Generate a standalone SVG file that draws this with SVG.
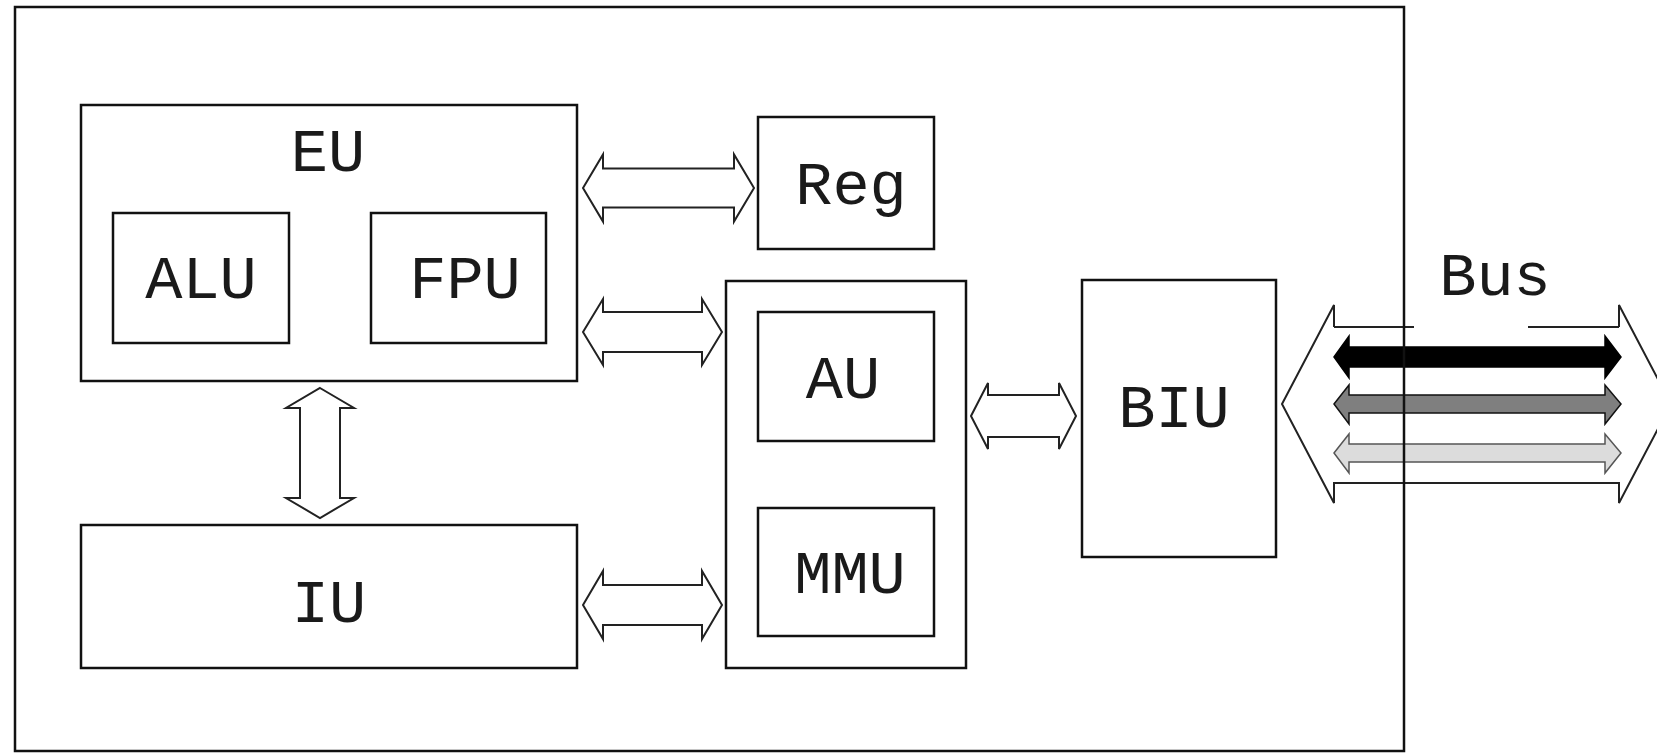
<svg xmlns="http://www.w3.org/2000/svg" width="1657" height="754" viewBox="0 0 1657 754">
<style>
.box{fill:none;stroke:#111;stroke-width:2.5}
.arr{fill:#fff;stroke:#222;stroke-width:2;stroke-linejoin:miter}
.lbl{font-family:"Courier New","Liberation Mono",monospace;font-size:62px;fill:#1a1a1a;text-anchor:middle}
</style>
<rect width="1657" height="754" fill="#fff"/>
<g id="connectors">
  <polygon class="arr" points="583,188 603,154.5 603,168.5 734,168.5 734,154.5 754,188 734,221.5 734,207.5 603,207.5 603,221.5"/>
  <polygon class="arr" points="583,332 603,299 603,312 702,312 702,299 722,332 702,365 702,352 603,352 603,365"/>
  <polygon class="arr" points="583,605 603,571 603,585 702,585 702,571 722,605 702,639 702,625 603,625 603,639"/>
  <polygon class="arr" points="971,416 988,383 988,395 1059,395 1059,383 1076,416 1059,449 1059,437 988,437 988,449"/>
  <polygon class="arr" points="320,388 354,408 340,408 340,498 354,498 320,518 286,498 300,498 300,408 286,408"/>
</g>
<g id="bus">
  <path d="M1334,327 L1334,305 L1282,404 L1334,503 L1334,483 L1619,483 L1619,503 L1671,404 L1619,305 L1619,327 Z" fill="#fff" stroke="none"/>
  <path d="M1334,327 L1334,305 L1282,404 L1334,503 L1334,483 L1619,483 L1619,503 L1671,404 L1619,305 L1619,327 M1334,327 H1414 M1528,327 H1619" fill="none" stroke="#222" stroke-width="2"/>
  <polygon points="1334,357 1349,336 1349,347 1605,347 1605,336 1621,357 1605,378 1605,367 1349,367 1349,378" fill="#000" stroke="#000" stroke-width="1.5"/>
  <polygon points="1334,404 1349,385 1349,395 1605,395 1605,385 1621,404 1605,424 1605,413 1349,413 1349,424" fill="#7f7f7f" stroke="#111" stroke-width="1.5"/>
  <polygon points="1334,453 1349,434 1349,444 1605,444 1605,434 1621,453 1605,473 1605,462 1349,462 1349,473" fill="#dcdcdc" stroke="#555" stroke-width="1.5"/>
  <text class="lbl" x="1495" y="295">Bus</text>
</g>
<g id="EU">
  <rect class="box" x="81" y="105" width="496" height="276"/>
  <text class="lbl" x="328" y="171">EU</text>
</g>
<g id="ALU">
  <rect class="box" x="113" y="213" width="176" height="130"/>
  <text class="lbl" x="201" y="298">ALU</text>
</g>
<g id="FPU">
  <rect class="box" x="371" y="213" width="175" height="130"/>
  <text class="lbl" x="465" y="298">FPU</text>
</g>
<g id="IU">
  <rect class="box" x="81" y="525" width="496" height="143"/>
  <text class="lbl" x="329" y="622">IU</text>
</g>
<g id="Reg">
  <rect class="box" x="758" y="117" width="176" height="132"/>
  <text class="lbl" x="851" y="204">Reg</text>
</g>
<g id="MemUnit">
  <rect class="box" x="726" y="281" width="240" height="387"/>
</g>
<g id="AU">
  <rect class="box" x="758" y="312" width="176" height="129"/>
  <text class="lbl" x="843" y="398">AU</text>
</g>
<g id="MMU">
  <rect class="box" x="758" y="508" width="176" height="128"/>
  <text class="lbl" x="850" y="593">MMU</text>
</g>
<g id="BIU">
  <rect class="box" x="1082" y="280" width="194" height="277"/>
  <text class="lbl" x="1174" y="427">BIU</text>
</g>
<g id="CPU">
  <rect class="box" x="15" y="7" width="1389" height="744"/>
</g>
</svg>
